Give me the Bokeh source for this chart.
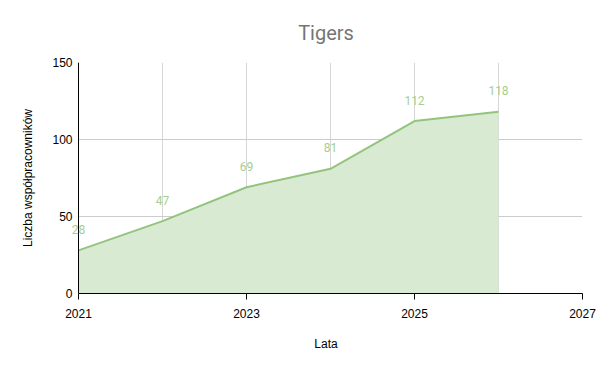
from bokeh.plotting import figure
from bokeh.models import FixedTicker, Range1d, Label, ColumnDataSource, Span, BoxAnnotation
from bokeh.embed import file_html
from bokeh.resources import INLINE

years = [2021, 2022, 2023, 2024, 2025, 2026]
workers = [28, 47, 69, 81, 112, 118]
x_ticks = [2021, 2023, 2025, 2027]
x_grid = [2021, 2022, 2023, 2024, 2025, 2026, 2027]
y_ticks = [0, 50, 100, 150]

X0, X1 = x_grid[0], x_grid[-1]
# small left padding (in px) inside the frame so the first data label is not clipped
PAD_PX = 9
FRAME_LEFT = 69
FRAME_RIGHT = 582
per_px = (X1 - X0) / (FRAME_RIGHT - FRAME_LEFT - PAD_PX)
x_start = X0 - PAD_PX * per_px

src = ColumnDataSource(dict(x=years, y=workers))

p = figure(width=600, height=371, output_backend="svg", toolbar_location=None,
           x_range=Range1d(x_start, X1), y_range=Range1d(0, 150),
           min_border_left=FRAME_LEFT, min_border_right=600 - FRAME_RIGHT,
           min_border_top=62, min_border_bottom=78,
           title="Tigers")
p.outline_line_color = None
p.title.align = "center"
p.title.text_color = "#757575"
p.title.text_font = "Roboto"
p.title.text_font_size = "20px"
p.title.text_font_style = "normal"
p.title.standoff = 35

# hide the grid in the padding strip (below axes and glyphs)
p.add_layout(BoxAnnotation(right=X0, fill_color="white", fill_alpha=1.0,
                           line_color=None, level="underlay"))

p.varea(x="x", y1=0, y2="y", source=src, fill_color="#d9ead3", fill_alpha=1.0)
p.line(x="x", y="y", source=src, line_color="#93c47d", line_width=2)

# y axis line at the first year
p.add_layout(Span(location=X0, dimension="height", line_color="black", line_width=1))

for xv, yv in zip(years, workers):
    p.add_layout(Label(x=xv, y=yv, text=str(yv), text_align="center",
                       text_baseline="middle", y_offset=21, text_color="#a4cf8e",
                       text_font="Roboto", text_font_size="12px"))

p.xaxis.ticker = FixedTicker(ticks=x_ticks)
p.xaxis.bounds = (X0, X1)
p.xgrid.ticker = FixedTicker(ticks=x_grid)
p.yaxis.ticker = FixedTicker(ticks=y_ticks)
p.xgrid.grid_line_color = "#d6d6d6"
p.ygrid.grid_line_color = "#cccccc"

for ax in (p.xaxis, p.yaxis):
    ax.minor_tick_line_color = None
    ax.major_label_text_font = "Liberation Sans"
    ax.major_label_text_font_size = "12px"
    ax.major_label_text_color = "black"
    ax.axis_label_text_font = "Liberation Sans"
    ax.axis_label_text_font_size = "12px"
    ax.axis_label_text_font_style = "normal"
    ax.axis_label_text_color = "black"

p.xaxis.axis_line_color = "black"
p.xaxis.axis_label = "Lata"
p.xaxis.major_tick_in = 0
p.xaxis.major_tick_out = 6
p.xaxis.major_tick_line_color = "black"
p.xaxis.major_label_standoff = 9
p.xaxis.axis_label_standoff = 16

p.yaxis.axis_line_color = None
p.yaxis.axis_label = "Liczba współpracowników"
p.yaxis.major_tick_line_color = None
p.yaxis.major_tick_out = 0
p.yaxis.major_tick_in = 0
p.yaxis.major_label_standoff = -3
p.yaxis.axis_label_standoff = 14

open("out.html", "w").write(file_html(p, INLINE))
